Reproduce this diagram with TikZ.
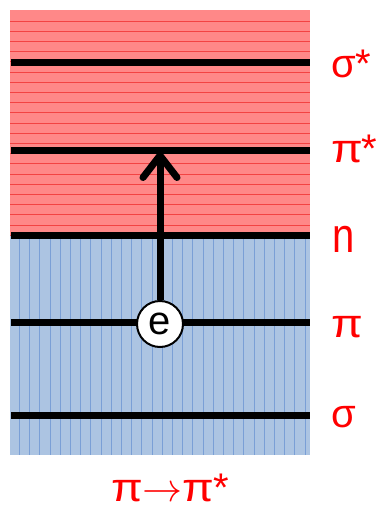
\RequirePackage{fix-cm}
\documentclass[tikz,border=0pt]{standalone}
\usepackage{fontspec}
\usepackage{graphicx}
\setmainfont{Liberation Sans}
\usetikzlibrary{arrows.meta}
\definecolor{redfill}{RGB}{255,136,136}
\definecolor{redline}{RGB}{240,50,50}
\definecolor{bluefill}{RGB}{172,196,226}
\definecolor{blueline}{RGB}{110,150,212}
\definecolor{labred}{RGB}{255,0,0}
\newcommand{\wpi}{\scalebox{1.15}[1]{π}}
\tikzset{
  level/.style={line width=7pt},
  lab/.style={text=labred, font=\fontsize{40}{44}\selectfont, anchor=base west, inner sep=0pt},
  elec/.style={circle, draw, line width=2pt, fill=white, minimum size=46pt, inner sep=0pt, font=\fontsize{40}{44}\selectfont},
  trans/.style={line width=7pt, -{Straight Barb[length=22pt,width=34pt,line width=7pt,round]}}
}
\begin{document}
\begin{tikzpicture}[x=1pt,y=-1pt]
\useasboundingbox (0,0) rectangle (379,507);
% regions
\fill[redfill] (10,10) rectangle (310,235);
\fill[bluefill] (10,235) rectangle (310,455);
\foreach \i in {0,...,21} {
  \draw[redline, line width=1pt, opacity=0.8] (10,{21+10.2*\i}) -- (310,{21+10.2*\i});
}
\foreach \i in {0,...,28} {
  \draw[blueline, line width=1pt, opacity=0.8] ({19.5+10.2*\i},235) -- ({19.5+10.2*\i},455);
}
% levels
\coordinate (s1a) at (11,62);  \coordinate (s1b) at (310,62);
\coordinate (p1a) at (11,150); \coordinate (p1b) at (310,150);
\coordinate (na) at (11,235);  \coordinate (nb) at (310,235);
\coordinate (pa) at (11,322);  \coordinate (pb) at (310,322);
\coordinate (sa) at (11,415);  \coordinate (sb) at (310,415);
\draw[level] (s1a) -- (s1b);
\draw[level] (p1a) -- (p1b);
\draw[level] (na) -- (nb);
\draw[level] (pa) -- (pb);
\draw[level] (sa) -- (sb);
% labels
\node[lab] (ls1) at (331,77) {σ*};
\node[lab] (lp1) at (331,162) {\wpi\kern-1pt*};
\node[lab, yscale=1.22] (ln) at (332,252) {n};
\node[lab] (lp) at (331,337) {\wpi};
\node[lab] (ls) at (331,427) {σ};
\node[lab] (lt) at (111,501) {\wpi$\rightarrow$\wpi\kern-1pt*};
% electron and transition
\coordinate (top) at (160,152);
\node[elec] (e) at (160,324) {e};
\draw[trans] (e.north) -- (top);
\end{tikzpicture}
\end{document}
